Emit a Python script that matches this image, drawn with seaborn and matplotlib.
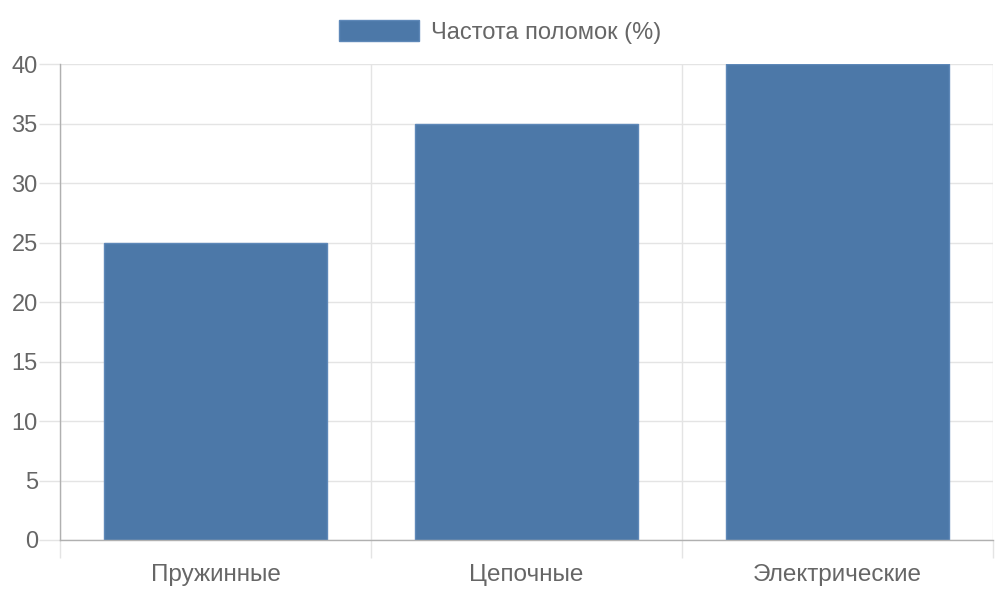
import matplotlib
matplotlib.use('Agg')
import matplotlib.pyplot as plt
import seaborn as sns
import numpy as np

# ── data ─────────────────────────────────────────────
categories = ["Пружинные", "Цепочные", "Электрические"]
failure_rate = [25, 35, 40]
series_label = "Частота поломок (%)"
y_ticks = [0, 5, 10, 15, 20, 25, 30, 35, 40]

BAR_COLOR = "#4c78a8"
TEXT_COLOR = "#666666"
GRID_COLOR = "#e4e4e4"
AXIS_COLOR = "#b0b0b0"

sns.set_theme(style="white")
plt.rcParams['font.family'] = ['Liberation Sans', 'DejaVu Sans']

fig = plt.figure(figsize=(10, 6), dpi=100)
ax = fig.add_axes([0.06, 0.1, 0.933, 0.7933])

sns.barplot(x=categories, y=failure_rate, color=BAR_COLOR, width=0.72,
            saturation=1, edgecolor="#5e88b8", linewidth=1,
            label=series_label, ax=ax)

ax.set_xlim(-0.5, len(categories) - 0.5)
ax.set_ylim(0, 40)
ax.set_yticks(y_ticks)
ax.set_xticks(np.arange(-0.5, len(categories), 1.0), minor=True)

ax.grid(True, axis='y', color=GRID_COLOR, linewidth=1)
ax.grid(True, axis='x', which='minor', color=GRID_COLOR, linewidth=1)
ax.grid(False, axis='x', which='major')
ax.set_axisbelow(True)

for side in ["top", "right"]:
    ax.spines[side].set_visible(False)
for side in ["left", "bottom"]:
    ax.spines[side].set_color(AXIS_COLOR)
    ax.spines[side].set_linewidth(1)

ax.tick_params(axis='x', which='major', length=0, pad=17,
               labelsize=17.5, labelcolor=TEXT_COLOR)
ax.tick_params(axis='x', which='minor', length=13, width=1,
               color=GRID_COLOR, bottom=True)
ax.tick_params(axis='y', length=15, width=1, color=GRID_COLOR, pad=1,
               labelsize=17, labelcolor=TEXT_COLOR, left=True)
ax.set_xlabel("")
ax.set_ylabel("")

leg = ax.legend(loc="center", bbox_to_anchor=(0.5, 1 - 32 / 600),
                bbox_transform=fig.transFigure, frameon=False,
                fontsize=17, handlelength=3.4, handleheight=1.0,
                handletextpad=0.5, borderaxespad=0)
for t in leg.get_texts():
    t.set_color(TEXT_COLOR)

plt.savefig("out.png", dpi=100)
plt.close()
